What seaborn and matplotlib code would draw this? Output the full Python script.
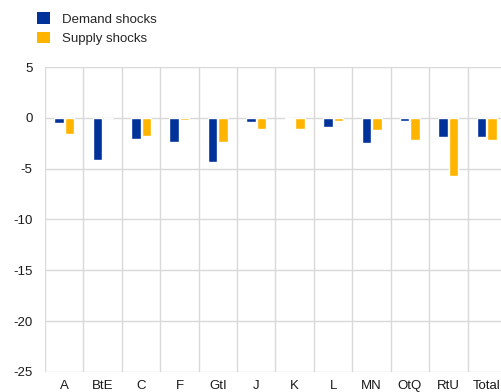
import matplotlib
matplotlib.use("Agg")
import matplotlib.pyplot as plt
from matplotlib.patches import Patch
from matplotlib.ticker import FixedLocator
import seaborn as sns
import pandas as pd

# Contribution of shocks by sector (percentage points)
sectors = ["A", "BtE", "C", "F", "GtI", "J", "K", "L", "MN", "OtQ", "RtU", "Total"]
demand = [-0.55, -4.1, -2.1, -2.35, -4.35, -0.45, -0.12, -0.9, -2.5, -0.3, -1.9, -1.85]
supply = [-1.6, -0.05, -1.75, -0.25, -2.4, -1.05, -1.05, -0.3, -1.2, -2.2, -5.7, -2.2]
series_names = ["Demand shocks", "Supply shocks"]
colors = ["#003299", "#FFB400"]
y_ticks = [5, 0, -5, -10, -15, -20, -25]

df = pd.DataFrame({
    "sector": sectors * 2,
    "value": demand + supply,
    "series": [series_names[0]] * len(sectors) + [series_names[1]] * len(sectors),
})

sns.set_theme(style="white")
plt.rcParams["font.family"] = ["Liberation Sans", "DejaVu Sans"]
plt.rcParams["axes.unicode_minus"] = False

fig = plt.figure(figsize=(5.02, 3.92), dpi=100)
ax = fig.add_axes([45 / 502, 20 / 392, 461 / 502, 305 / 392])

sns.barplot(data=df, x="sector", y="value", hue="series", order=sectors,
            hue_order=series_names, palette=colors, width=0.55, gap=0.1,
            saturation=1, legend=False, ax=ax, zorder=3)

ax.set_ylim(-25, 5)
ax.set_xlim(-0.5, len(sectors) - 0.5)
ax.set_yticks(y_ticks)
ax.xaxis.set_minor_locator(FixedLocator([i - 0.5 for i in range(len(sectors) + 1)]))
ax.grid(axis="y", which="major", color="#d9d9d9", linewidth=1, zorder=0)
ax.grid(axis="x", which="minor", color="#d9d9d9", linewidth=1, zorder=0)
ax.grid(axis="x", which="major", visible=False)
for s in ax.spines.values():
    s.set_visible(False)
ax.tick_params(axis="both", which="both", length=0, labelsize=9.5, colors="#1a1a1a")
ax.tick_params(axis="x", pad=6)
ax.tick_params(axis="y", pad=9)
ax.set_xlabel("")
ax.set_ylabel("")

handles = [Patch(facecolor=c, edgecolor="none") for c in colors]
fig.legend(handles, series_names, loc="upper left", bbox_to_anchor=(32 / 502, 1 - 7 / 392),
           frameon=False, fontsize=9.5, handlelength=1.0, handleheight=1.0,
           handletextpad=0.9, labelspacing=0.45, borderaxespad=0)

fig.savefig("out.png", dpi=100)
